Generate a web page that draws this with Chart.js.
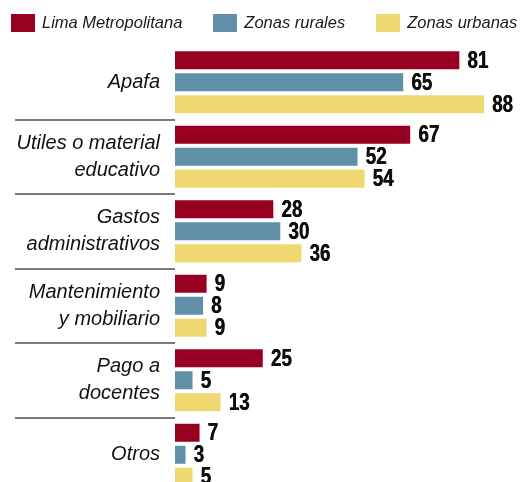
<!DOCTYPE html>
<html lang="es">
<head>
<meta charset="utf-8">
<title>Gastos</title>
<script src="https://cdn.jsdelivr.net/npm/chart.js@4.4.1/dist/chart.umd.min.js"></script>
<style>
    html, body { margin: 0; padding: 0; background: #fff; overflow: hidden; }
    #wrap { position: relative; width: 522px; height: 492px; }
    #legend {
        position: absolute; left: 11px; top: 13px;
        display: flex; align-items: center; white-space: nowrap;
        font: italic 16.5px 'Liberation Sans', Arial, sans-serif;
        color: #1a1a1a;
    }
    #legend .item { display: flex; align-items: center; margin-right: 31px; }
    #legend .box { width: 24px; height: 18px; margin-right: 7px; }
</style>
</head>
<body>
<div id="wrap">
    <canvas id="chart"></canvas>
    <div id="legend"></div>
</div>
<script>
    // Data.
    var categories = [
        'Apafa',
        ['Utiles o material', 'educativo'],
        ['Gastos', 'administrativos'],
        ['Mantenimiento', 'y mobiliario'],
        ['Pago a', 'docentes'],
        'Otros'
    ];
    var seriesNames = ['Lima Metropolitana', 'Zonas rurales', 'Zonas urbanas'];
    var seriesColors = ['#970020', '#608fa8', '#f0d870'];
    var limaValues = [81, 67, 28, 9, 25, 7];
    var ruralValues = [65, 52, 30, 8, 5, 3];
    var urbanValues = [88, 54, 36, 9, 13, 5];

    var FONT = "'Liberation Sans', Arial, sans-serif";

    // ── Legend (HTML) ──────────────────────────────────────────────
    var legend = document.getElementById('legend');
    seriesNames.forEach(function(name, i) {
        var item = document.createElement('div');
        item.className = 'item';
        var box = document.createElement('span');
        box.className = 'box';
        box.style.background = seriesColors[i];
        var txt = document.createElement('span');
        txt.textContent = name;
        item.appendChild(box);
        item.appendChild(txt);
        legend.appendChild(item);
    });

    // ── Value labels at the end of each bar (condensed bold) ──────
    var valueLabels = {
        id: 'valueLabels',
        afterDatasetsDraw: function(chart) {
            var ctx = chart.ctx;
            chart.data.datasets.forEach(function(ds, di) {
                chart.getDatasetMeta(di).data.forEach(function(bar, i) {
                    ctx.save();
                    ctx.font = 'bold 23.5px ' + FONT;
                    ctx.fillStyle = '#0d0d0d';
                    ctx.textAlign = 'left';
                    ctx.textBaseline = 'middle';
                    ctx.translate(bar.x + 8, bar.y + 1);
                    ctx.scale(0.8, 1);
                    ctx.fillText(ds.data[i], 0, 0);
                    // a second pass slightly offset to thicken the strokes
                    ctx.fillText(ds.data[i], 0.6, 0);
                    ctx.restore();
                });
            });
        }
    };

    var values = [limaValues, ruralValues, urbanValues];

    new Chart(document.getElementById('chart'), {
        type: 'bar',
        data: {
            labels: categories,
            datasets: values.map(function(v, i) {
                return {
                    label: seriesNames[i],
                    data: v,
                    backgroundColor: seriesColors[i],
                    categoryPercentage: 0.886,
                    barPercentage: 0.818
                };
            })
        },
        options: {
            indexAxis: 'y',
            responsive: true,
            maintainAspectRatio: false,
            animation: false,
            layout: { padding: { top: 45, right: 13.5, bottom: 0, left: 0 } },
            plugins: {
                legend: { display: false },
                tooltip: { enabled: false }
            },
            scales: {
                x: { display: false, min: 0, max: 95 },
                y: {
                    afterFit: function(scale) { scale.width = 175; },
                    border: { display: false },
                    grid: {
                        offset: true,
                        drawOnChartArea: false,
                        drawTicks: true,
                        tickLength: 160,
                        lineWidth: 2,
                        color: function(c) {
                            return c.index === 0 ? 'rgba(0,0,0,0)' : '#7a7a7a';
                        },
                        tickColor: function(c) {
                            return c.index === 0 ? 'rgba(0,0,0,0)' : '#7a7a7a';
                        }
                    },
                    ticks: {
                        autoSkip: false,
                        padding: -145,
                        color: '#111',
                        font: { family: FONT, style: 'italic', size: 20, lineHeight: 1.35 }
                    }
                }
            }
        },
        plugins: [valueLabels]
    });
</script>
</body>
</html>
